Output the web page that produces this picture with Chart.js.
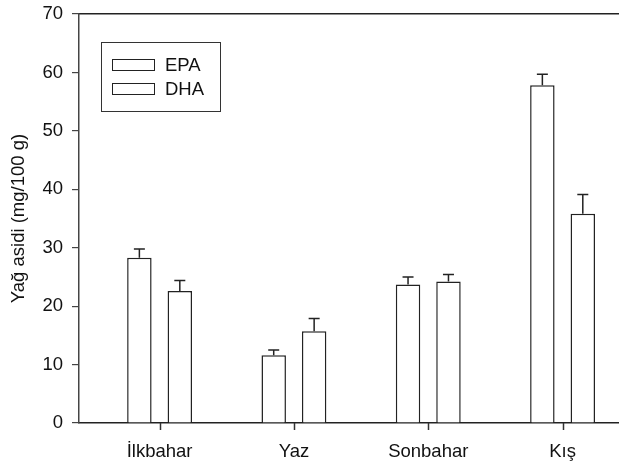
<!DOCTYPE html>
<html>
<head>
<meta charset="utf-8">
<script src="https://cdn.jsdelivr.net/npm/chart.js@4"></script>
<style>
  html, body { margin: 0; padding: 0; background: #fff; overflow: hidden; }
  #wrap { width: 619px; height: 465px; }
</style>
</head>
<body>
<div id="wrap"><canvas id="mycanvas" width="619" height="465"></canvas></div>
<script>
var seasons = ["İlkbahar", "Yaz", "Sonbahar", "Kış"];
var epaValues = [28.3, 11.6, 23.7, 57.8];
var epaErrors = [1.5, 0.9, 1.3, 1.9];
var dhaValues = [22.6, 15.7, 24.2, 35.8];
var dhaErrors = [1.8, 2.2, 1.2, 3.3];
var yTicks = [0, 10, 20, 30, 40, 50, 60, 70];

var FONT = "'Liberation Sans', Arial, sans-serif";
var FSIZE = 18.5;

function toPoints(values) {
	var pts = [];
	for (var i in values) {
		pts.push({ x: Number(i) + 1, y: values[i] });
	}
	return pts;
}

var errorBars = {
	id: 'errorBars',
	afterDatasetsDraw: function(chart) {
		var ctx = chart.ctx;
		var yScale = chart.scales.y;
		ctx.save();
		ctx.strokeStyle = '#222';
		ctx.lineWidth = 1.5;
		chart.data.datasets.forEach(function(ds, di) {
			var meta = chart.getDatasetMeta(di);
			meta.data.forEach(function(bar, i) {
				var top = yScale.getPixelForValue(ds.data[i].y + ds.errors[i]);
				ctx.beginPath();
				ctx.moveTo(bar.x, bar.y);
				ctx.lineTo(bar.x, top);
				ctx.moveTo(bar.x - 5.5, top);
				ctx.lineTo(bar.x + 5.5, top);
				ctx.stroke();
			});
		});
		ctx.restore();
	}
};

// x tick marks under the axis, one per season
var xTickMarks = {
	id: 'xTickMarks',
	afterDraw: function(chart) {
		var ctx = chart.ctx;
		var xs = chart.scales.x;
		var b = chart.chartArea.bottom;
		ctx.save();
		ctx.strokeStyle = '#333';
		ctx.lineWidth = 1.5;
		for (var i = 0; i < xs.ticks.length; i++) {
			var px = Math.round(xs.getPixelForTick(i)) + 0.5;
			ctx.beginPath();
			ctx.moveTo(px, b);
			ctx.lineTo(px, b + 7);
			ctx.stroke();
		}
		ctx.restore();
	}
};

var boxLegend = {
	id: 'boxLegend',
	afterDraw: function(chart) {
		var ctx = chart.ctx;
		var a = chart.chartArea;
		var x0 = a.left + 22, y0 = a.top + 28;
		ctx.save();
		ctx.strokeStyle = '#333';
		ctx.lineWidth = 1;
		ctx.strokeRect(x0 + 0.5, y0 + 0.5, 119, 69);
		ctx.font = FSIZE + 'px ' + FONT;
		ctx.textBaseline = 'middle';
		chart.data.datasets.forEach(function(ds, i) {
			var cy = y0 + 23 + i * 24;
			ctx.fillStyle = '#fff';
			ctx.fillRect(x0 + 11.5, cy - 5.5, 42, 11);
			ctx.strokeStyle = '#222';
			ctx.strokeRect(x0 + 11.5, cy - 5.5, 42, 11);
			ctx.fillStyle = '#111';
			ctx.fillText(ds.label, x0 + 64, cy + 1);
		});
		ctx.restore();
	}
};

var chartdata = {
	datasets: [
		{
			label: "EPA",
			data: toPoints(epaValues),
			errors: epaErrors,
			backgroundColor: "#fff",
			borderColor: "#222",
			borderWidth: 1.5,
			categoryPercentage: 0.602,
			barPercentage: 0.605
		},
		{
			label: "DHA",
			data: toPoints(dhaValues),
			errors: dhaErrors,
			backgroundColor: "#fff",
			borderColor: "#222",
			borderWidth: 1.5,
			categoryPercentage: 0.602,
			barPercentage: 0.605
		}
	]
};

var ctx = document.getElementById('mycanvas');

var BarGraph = new Chart(ctx, {
	type: 'bar',
	data: chartdata,
	plugins: [errorBars, xTickMarks, boxLegend],
	options: {
		responsive: false,
		animation: false,
		layout: { padding: { top: 14, left: 0, right: 0, bottom: 0 } },
		plugins: {
			legend: { display: false },
			tooltip: { enabled: false }
		},
		scales: {
			x: {
				type: 'linear',
				offset: false,
				min: 0.4,
				max: 4.42,
				afterBuildTicks: function(scale) {
					scale.ticks = seasons.map(function(s, i) { return { value: i + 1 }; });
				},
				afterFit: function(scale) {
					scale.height = 42;
					scale.paddingLeft = 0;
					scale.paddingRight = 0;
				},
				ticks: {
					autoSkip: false,
					maxRotation: 0,
					padding: 10,
					color: '#111',
					font: { family: FONT, size: FSIZE },
					callback: function(v) { return seasons[v - 1]; }
				},
				grid: { display: false },
				border: { display: true, color: '#222', width: 1.5 }
			},
			x2: {
				type: 'linear',
				position: 'top',
				afterFit: function(scale) { scale.height = 0; },
				ticks: { display: false },
				grid: { display: false, drawTicks: false },
				border: { display: true, color: '#222', width: 1.5 }
			},
			y: {
				min: 0,
				max: 70,
				afterBuildTicks: function(scale) {
					scale.ticks = yTicks.map(function(v) { return { value: v }; });
				},
				afterFit: function(scale) {
					scale.width = 79;
					scale.paddingTop = 0;
					scale.paddingBottom = 0;
				},
				title: {
					display: true,
					text: 'Yağ asidi (mg/100 g)',
					color: '#111',
					font: { family: FONT, size: FSIZE },
					padding: { top: 8, bottom: 0 }
				},
				ticks: {
					padding: 9,
					color: '#111',
					font: { family: FONT, size: FSIZE }
				},
				grid: { drawOnChartArea: false, drawTicks: true, tickLength: 7, tickColor: '#444', lineWidth: 1.2 },
				border: { display: true, color: '#444', width: 1.5 }
			}
		}
	}
});
</script>
</body>
</html>
